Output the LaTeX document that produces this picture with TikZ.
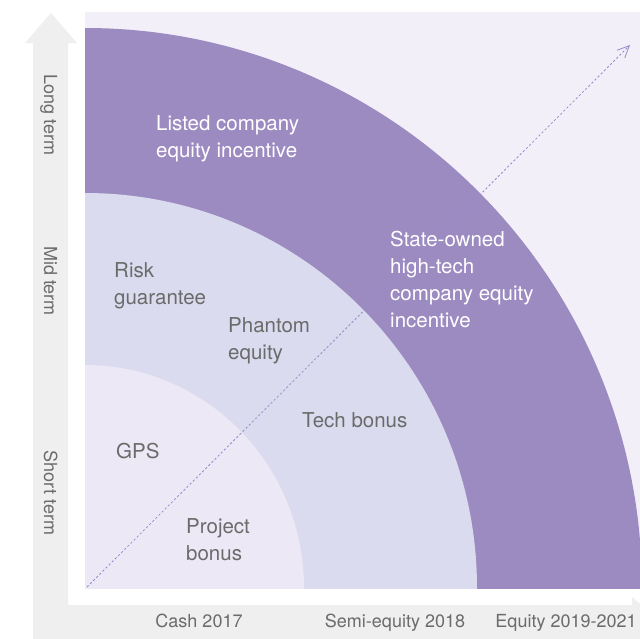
\documentclass[tikz,border=0pt]{standalone}
\usepackage{fontspec}
\setmainfont{TeX Gyre Heros}
\usetikzlibrary{arrows.meta}
\definecolor{PanelLilac}{HTML}{F2EFF8}
\definecolor{BandPurple}{HTML}{9C8BC1}
\definecolor{BandPeri}{HTML}{DADBEE}
\definecolor{BandPale}{HTML}{ECE8F5}
\definecolor{AxisGray}{HTML}{EFEFEF}
\definecolor{LabelGray}{HTML}{6B6B6B}
\definecolor{TrendPurple}{HTML}{9A8ACB}
\tikzset{
  axisband/.style={fill=AxisGray, draw=none},
  zonelabel/.style={anchor=north west, inner sep=0pt, align=left, text=LabelGray, font=\fontsize{20.5}{27}\selectfont},
  whitelabel/.style={zonelabel, text=white},
  axislabel/.style={anchor=base, inner sep=0pt, text=LabelGray, font=\fontsize{18}{22}\selectfont},
  termlabel/.style={axislabel, rotate=-90},
  trend/.style={-{Straight Barb[length=12pt, width=11pt]}, draw=TrendPurple, line width=0.8pt, dash pattern=on 2.2pt off 2.2pt}
}

\begin{document}
\begin{tikzpicture}[x=1pt, y=-1pt]
\clip (0,0) rectangle (640,638);
\fill[white] (0,0) rectangle (640,638);
\fill[axisband] (33,640) -- (33,43) -- (25,43) -- (51,13) -- (77,43) -- (68,43) -- (68,640) -- cycle;
\fill[axisband] (33,605) -- (632,605) -- (632,597) -- (662,622.5) -- (632,648) -- (632,640) -- (33,640) -- cycle;
\fill[PanelLilac] (85,12) rectangle (640,588);
\begin{scope}
\clip (85,12) rectangle (640,588);
\fill[BandPurple] (85,588) ellipse [x radius=557pt, y radius=560pt];
\fill[BandPeri] (85,588) ellipse [x radius=392pt, y radius=395pt];
\fill[BandPale] (85,588) ellipse [x radius=219pt, y radius=223pt];
\end{scope}
\coordinate (origin) at (87,587);
\coordinate (tip) at (630,45);
\draw[trend] (origin) -- (tip);
\node[whitelabel] (listed) at (156,115) {Listed company\\equity incentive};
\node[whitelabel] (stateowned) at (390,231) {State-owned\\high-tech\\company equity\\incentive};
\node[zonelabel] (risk) at (114,262) {Risk\\guarantee};
\node[zonelabel] (phantom) at (228,317) {Phantom\\equity};
\node[zonelabel] (techbonus) at (302,412) {Tech bonus};
\node[zonelabel] (gps) at (116,443) {GPS};
\node[zonelabel] (project) at (186,518) {Project\\bonus};
\node[axislabel] (cash) at (199,627) {Cash 2017};
\node[axislabel] (semi) at (395,627) {Semi-equity 2018};
\node[axislabel] (equity) at (566,627) {Equity 2019-2021};
\node[termlabel] (longterm) at (44,115) {Long term};
\node[termlabel] (midterm) at (44,281) {Mid term};
\node[termlabel] (shortterm) at (44,493) {Short term};
\end{tikzpicture}
\end{document}
